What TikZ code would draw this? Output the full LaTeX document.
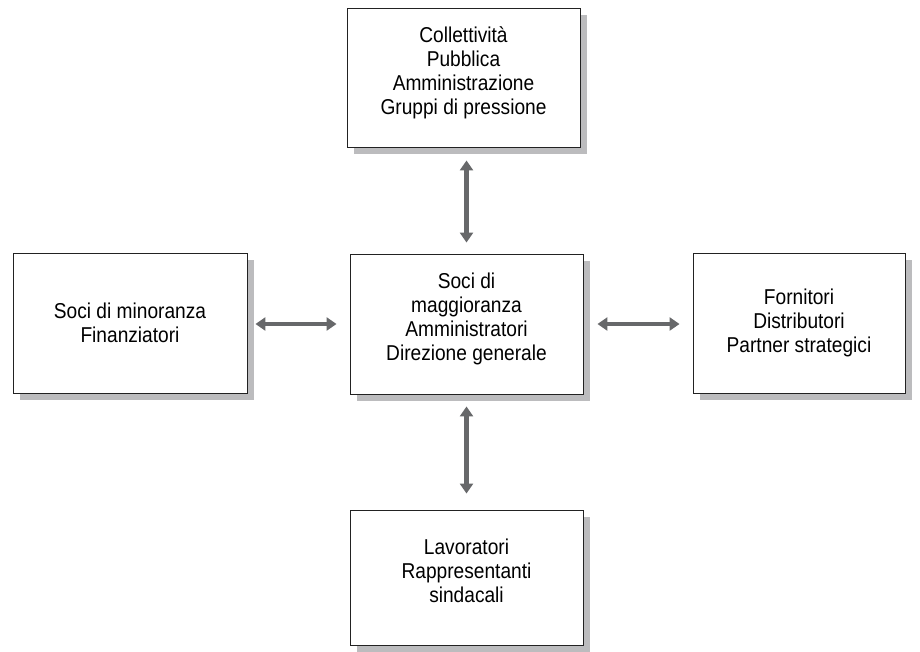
\documentclass[tikz,border=0pt]{standalone}
\usepackage{fontspec}
\setmainfont{Liberation Sans}[FakeStretch=0.89]
\usetikzlibrary{arrows.meta,shadows}
\definecolor{shadowgrey}{HTML}{BCBCBE}
\definecolor{arrowgrey}{HTML}{67686A}
\definecolor{framegrey}{HTML}{222222}
\tikzset{
  box/.style={draw=framegrey, line width=0.9pt, fill=white, align=center,
    font=\fontsize{21.5}{24}\selectfont, inner sep=0pt,
    general shadow={fill=shadowgrey, draw=none, shadow xshift=7pt, shadow yshift=-7pt}},
  link/.style={draw=arrowgrey, line width=4.5pt,
    {Triangle[width=13pt,length=10pt]}-{Triangle[width=13pt,length=10pt]}}
}
\begin{document}
\begin{tikzpicture}[x=1pt,y=-1pt]
\useasboundingbox (0,0) rectangle (920,651);
\node[box, minimum width=233pt, minimum height=139pt] (pub) at (463.5,77.5)
  {Collettività\\Pubblica\\Amministrazione\\Gruppi di pressione\\[-10pt]};
\node[box, minimum width=234pt, minimum height=140pt] (fin) at (130,323)
  {Soci di minoranza\\Finanziatori};
\node[box, minimum width=233pt, minimum height=140pt] (dir) at (466.5,324)
  {Soci di\\maggioranza\\Amministratori\\Direzione generale\\[-10pt]};
\node[box, minimum width=212pt, minimum height=140pt] (for) at (799,323)
  {Fornitori\\Distributori\\Partner strategici};
\node[box, minimum width=233pt, minimum height=135pt] (lav) at (466.5,577.5)
  {Lavoratori\\Rappresentanti\\sindacali\\[-10pt]};
\draw[link, shorten <=13pt, shorten >=8pt] (dir.west) -- (fin.east |- dir.west);
\draw[link, shorten <=14pt, shorten >=13pt] (dir.east) -- (for.west |- dir.east);
\draw[link, shorten <=11pt, shorten >=13pt] (dir.north) -- (dir.north |- pub.south);
\draw[link, shorten <=12pt, shorten >=16pt] (dir.south) -- (dir.south |- lav.north);
\end{tikzpicture}
\end{document}
